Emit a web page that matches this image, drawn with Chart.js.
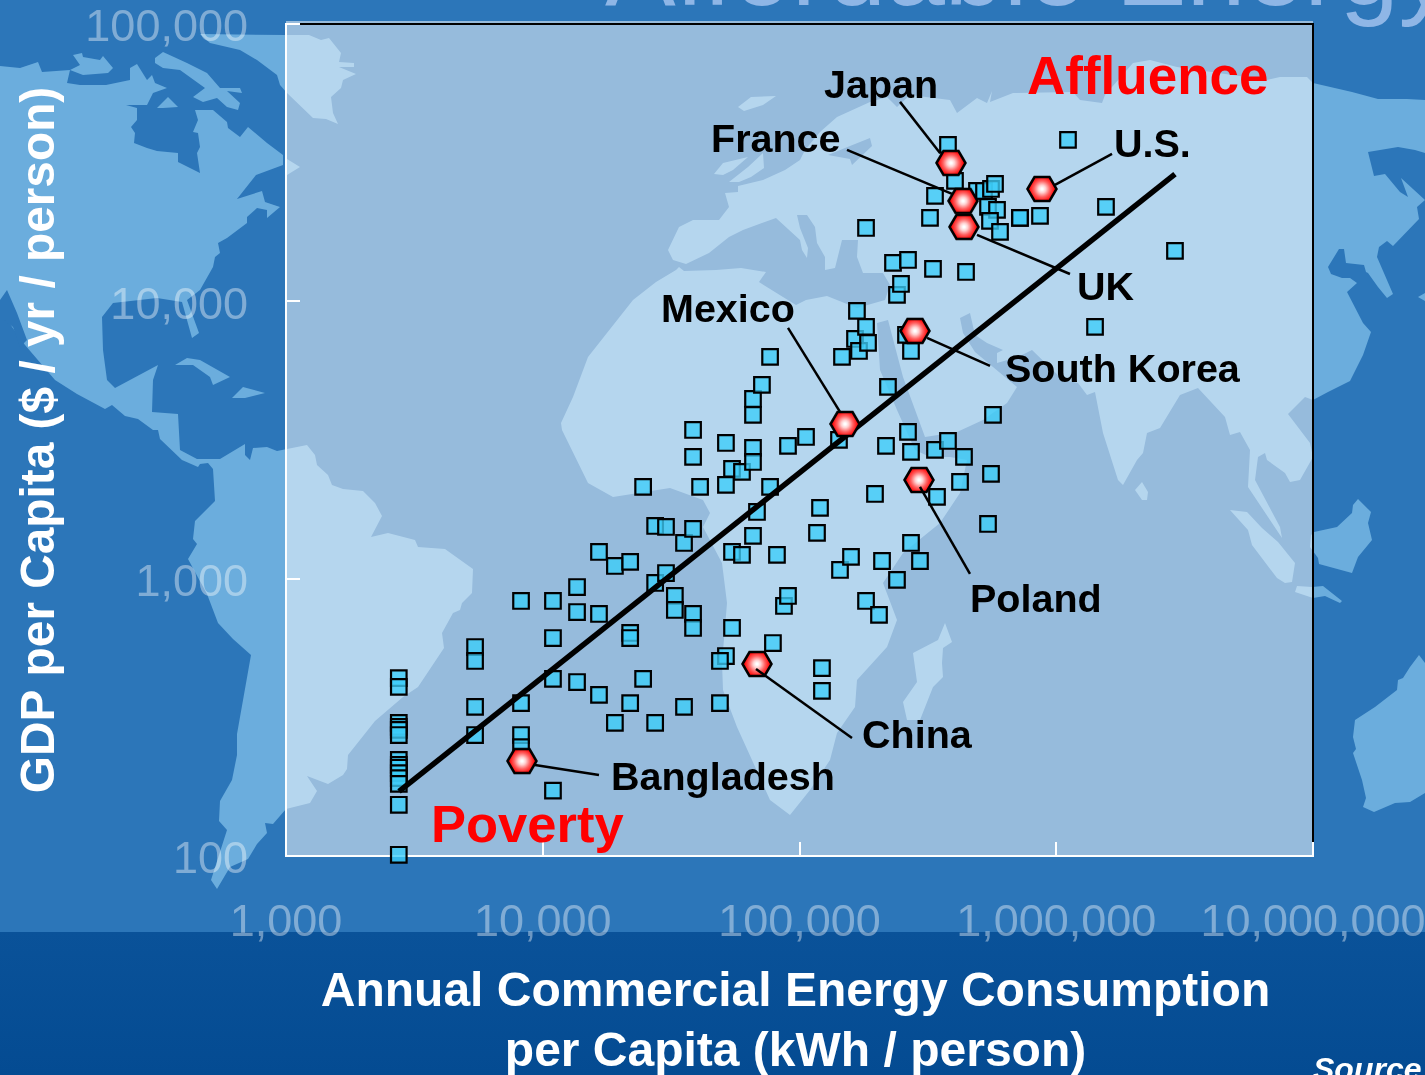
<!DOCTYPE html>
<html>
<head>
<meta charset="utf-8">
<title>GDP vs energy</title>
<script src="https://cdn.jsdelivr.net/npm/chart.js@4/dist/chart.umd.min.js"></script>
<style>
  html, body { margin: 0; padding: 0; }
  body { width: 1425px; height: 1075px; overflow: hidden; position: relative; background: #2c76b9; font-family: "Liberation Sans", Arial, sans-serif; }
  #map, #chart { position: absolute; left: 0; top: 0; }
  #slide-title { position: absolute; left: 605px; top: -85px; font-size: 106px; line-height: 106px; color: #8fb6e6; white-space: nowrap; }
  #source { position: absolute; left: 1313px; top: 1051px; font-size: 32px; line-height: 36px; font-weight: bold; font-style: italic; color: #fff; white-space: nowrap; }
</style>
</head>
<body>
<svg id="map" width="1425" height="1075" viewBox="0 0 1425 1075">
  <defs><linearGradient id="band" x1="0" y1="0" x2="0" y2="1"><stop offset="0" stop-color="#0a5299"/><stop offset="1" stop-color="#044b92"/></linearGradient></defs>
  <g fill="#6baddd">
    <polygon points="0,66 20,68 38,62 42,72 70,70 67,83 80,85 106,85 130,80 130,68 137,64 147,80 152,75 155,83 167,88 153,93 147,105 126,105 137,108 137,120 131,127 135,133 134,143 147,148 157,151 178,153 178,162 200,173 197,153 200,147 198,133 193,132 198,120 195,110 213,110 227,122 228,128 240,137 248,127 267,143 283,155 283,165 256,175 237,199 262,191 265,202 280,207 267,218 267,210 257,208 247,217 247,223 227,238 218,243 220,253 215,257 213,267 200,290 187,300 199,333 192,338 182,302 157,298 113,303 102,317 103,350 107,380 115,388 158,365 153,380 152,412 178,414 180,450 197,459 220,459 245,444 245,455 250,460 253,448 267,447 277,451 307,445 315,455 317,465 328,475 332,485 343,489 363,491 375,503 382,516 371,537 388,533 415,540 418,547 445,549 473,569 472,593 462,603 460,610 453,613 442,633 444,648 418,687 403,697 375,721 348,755 347,769 343,775 328,784 307,776 317,791 310,803 286,809 273,824 265,823 267,833 257,844 248,859 230,867 217,889 211,880 227,830 219,821 220,801 232,780 237,755 237,734 251,655 233,639 218,623 207,594 188,559 197,544 193,539 195,521 215,501 213,469 208,463 200,464 198,467 182,460 160,439 158,430 153,430 138,419 125,416 112,405 105,409 77,394 55,380 25,345 0,310"/>
    <polygon points="155,58 163,52 187,63 207,73 220,88 240,88 242,93 227,91 240,103 238,110 227,107 217,98 203,102 193,97 205,88 180,70 163,68 155,63"/>
    <polygon points="157,108 168,97 178,107 163,108"/>
    <polygon points="70,70 80,65 73,55 82,53 83,57 100,60 103,56 113,68 108,73 83,75"/>
    <polygon points="175,365 187,358 200,360 230,377 213,385 210,377 193,365"/>
    <polygon points="232,398 243,387 265,393 245,398"/>
    <polygon points="200,34 286,35 309,35 321,40 329,38 341,53 339,62 354,63 354,67 339,67 356,74 343,80 341,88 331,97 333,113 338,124 326,119 313,118 287,93 280,85 277,75 257,60 240,50 210,43"/>
    <polygon points="287,159 300,167 287,175"/>
    <polygon points="738,107 751,97 776,96 763,105 744,111"/>
    <polygon points="714,174 723,163 748,157 733,170 723,175"/>
    <polygon points="729,182 748,167 763,153 764,168 751,177 739,182"/>
    <polygon points="562,430 561,423 573,397 588,357 633,300 656,282 676,270 679,267 684,271 716,270 741,268 766,272 759,282 783,297 796,305 806,300 827,296 857,308 885,300 890,285 883,273 863,273 857,257 858,240 842,240 835,268 825,270 825,257 817,243 815,227 807,215 797,215 800,228 808,248 807,258 802,250 800,240 776,218 743,230 729,237 709,253 686,264 673,260 668,250 679,227 693,220 719,220 729,207 725,193 738,192 738,186 763,180 785,170 800,160 805,150 820,132 837,117 870,102 887,97 897,107 910,95 950,100 957,113 977,98 987,103 992,91 990,102 1013,93 1073,92 1080,100 1102,103 1105,95 1133,63 1150,60 1177,67 1267,80 1280,77 1307,77 1313,83 1352,92 1378,99 1407,99 1425,100 1425,153 1415,150 1398,147 1368,152 1374,176 1385,174 1400,192 1408,197 1401,178 1425,200 1417,207 1419,219 1393,246 1387,241 1379,247 1377,257 1393,294 1387,298 1378,287 1368,273 1366,272 1364,265 1346,263 1344,249 1339,249 1328,267 1331,274 1342,278 1350,278 1357,283 1347,292 1363,323 1371,332 1363,355 1350,381 1328,392 1313,400 1305,397 1288,414 1310,443 1313,457 1300,480 1290,482 1285,473 1267,460 1265,453 1258,457 1255,480 1280,527 1282,538 1268,517 1248,487 1250,450 1240,432 1230,435 1225,417 1198,388 1180,395 1160,428 1147,433 1143,453 1137,460 1123,485 1118,480 1103,433 1095,392 1087,395 1078,383 1063,380 1032,350 1018,357 997,363 997,353 1003,350 987,343 975,335 970,313 960,318 963,333 975,352 1017,387 1007,403 983,420 957,432 925,437 903,377 888,320 877,323 880,370 897,410 915,450 930,457 950,457 967,460 960,493 940,523 903,553 883,583 897,620 887,647 857,680 855,707 837,733 830,760 810,790 790,815 770,800 752,760 737,727 723,690 722,663 727,603 722,563 703,527 710,513 703,500 670,488 613,497 588,483"/>
    <polygon points="945,623 952,642 943,648 942,663 943,677 933,687 920,720 907,720 903,702 917,682 913,653 938,640"/>
    <polygon points="1142,482 1148,492 1147,500 1142,500 1135,490"/>
    <polygon points="1230,510 1247,512 1262,528 1278,542 1295,563 1292,582 1285,583 1277,578 1252,545 1248,530"/>
    <polygon points="1297,586 1312,587 1323,586 1342,601 1340,603 1325,596 1313,598 1295,592"/>
    <polygon points="1358,499 1371,512 1368,523 1372,540 1358,557 1352,573 1319,564 1318,558 1310,547 1311,535 1314,532 1337,527 1352,513 1353,505"/>
    <polygon points="1418,297 1425,293 1425,301"/>
    <polygon points="1419,655 1425,663 1425,793 1410,802 1395,803 1374,812 1363,807 1366,798 1362,780 1353,753 1356,749 1353,737 1355,720 1375,707 1397,690 1398,680 1403,678 1410,667"/>
  </g>
  <g fill="#2c76b9">
    <polygon points="845,148 870,138 872,146 852,165 850,159 828,155"/>
    <polygon points="7,290 17,313 27,340 20,347 13,327 0,317 0,300"/>
  </g>
  <rect x="0" y="932" width="1425" height="143" fill="url(#band)"/>
</svg>
<div id="slide-title">Affordable Energy</div>
<canvas id="chart" width="1425" height="1075"></canvas>
<div id="source">Source:</div>
<script>
// tick values
const energyTicks = [1000, 10000, 100000, 1000000, 10000000];
const gdpTicks = [100, 1000, 10000, 100000];

// countries, kWh / person and $ / person
const energy = [
  2750, 2750, 2750, 2750, 2750, 2750, 2750, 2750, 2750, 2750, 2750, 2750, 2750, 2750,
  5450, 5450, 5450, 5450, 8230, 8230, 8230, 8230, 10960, 10960, 10960, 10960,
  13600, 13600, 13600, 16560, 16560, 16560, 19100, 19100, 21900, 21900, 21900, 21900,
  24600, 24600, 27400, 27400, 27400, 30200, 30200, 32700, 32700, 35500, 35500,
  38500, 38500, 38500, 38500, 38500, 41000, 51700, 51700, 51700, 49000, 49000,
  54600, 54600, 54600, 59700, 59700, 65900, 65900, 65900, 65900, 65900, 68300, 71400,
  76800, 76800, 78800, 81700, 87000, 90200, 90200, 106000, 117000, 120200, 122300, 122300,
  142500, 143800, 146400, 158700, 164500, 167400, 170500, 181600, 181600, 181600, 184900,
  196800, 204000, 209600, 217200, 221100, 231300, 239700, 239700, 248500, 259900,
  264600, 264600, 271800, 271800, 271800, 294600, 322300, 331100, 337100, 337100, 343200,
  378700, 378700, 403300, 421900, 437200, 445200, 491200, 523200, 542300, 542300,
  557000, 557000, 567100, 577400, 587900, 552000, 603900, 722400, 722400, 864400,
  1111000, 1416000, 1562000, 2900000
];
const gdp = [
  438, 407, 302, 292, 285, 273, 222, 213, 208, 199, 191, 182, 153, 101,
  567, 505, 345, 273, 831, 356, 273, 247, 831, 611, 435, 172,
  933, 758, 424, 1248, 746, 381, 1111, 302, 1149, 637, 611, 356,
  2142, 435, 1549, 965, 302, 1536, 1048, 866, 771, 1345, 345,
  3437, 2748, 1511, 746, 664, 2142, 3085, 2178, 526, 505, 356,
  2487, 1248, 664, 2426, 1218, 4446, 3894, 2960, 2635, 1426, 1740, 4995,
  6303, 2142, 586, 1218, 797, 3010, 866, 3243, 1462, 1799, 476, 394,
  3164, 1075, 6303, 1198, 7317, 9235, 6623, 18390, 8086, 831, 7079,
  2020, 740, 1158, 3010, 4913, 13760, 10550, 990, 11550, 7565,
  14100, 3381, 6623, 2864, 1345, 1158, 19990, 13090, 23990, 2912, 1971,
  36640, 3137, 27180, 2232, 2748, 12760, 25000, 25000, 21900, 1575,
  25420, 2386, 3894, 26500, 21360, 19500, 17800, 19990, 19990, 20320,
  38200, 8086, 21900, 15200
];

// highlighted countries
const countries = ['Japan', 'France', 'UK', 'U.S.', 'South Korea', 'Mexico', 'Poland', 'China', 'Bangladesh'];
const countryEnergy = [389000, 433400, 437200, 880000, 281700, 150400, 292000, 68300, 8300];
const countryGdp = [31560, 23020, 18550, 25420, 7822, 3613, 2269, 492.5, 220];

// callout lines, label end then marker end
const leaderEnergyA = [246300, 153100, 1131000, 1649000, 552000, 90200, 461300, 160100, 16560];
const leaderGdpA = [52380, 35160, 12550, 34010, 5848, 8019, 1040, 266.4, 195.9];
const leaderEnergyB = [352500, 392600, 491200, 988800, 313800, 143800, 294600, 67700, 9328];
const leaderGdpB = [34290, 24400, 17360, 26290, 7379, 3992, 2142, 472.5, 212.9];

// fit line
const trendEnergy = [2755, 2900000];
const trendGdp = [171, 28770];

// text on the plot
const notes = [
  { text: 'Japan', x: 824, y: 98 },
  { text: 'France', x: 711, y: 152 },
  { text: 'U.S.', x: 1114, y: 157 },
  { text: 'UK', x: 1077, y: 300 },
  { text: 'Mexico', x: 661, y: 322 },
  { text: 'South Korea', x: 1005, y: 382 },
  { text: 'Poland', x: 970, y: 612 },
  { text: 'China', x: 862, y: 748 },
  { text: 'Bangladesh', x: 611, y: 790 },
  { text: 'Affluence', x: 1027, y: 94, size: 53, color: '#ff0000' },
  { text: 'Poverty', x: 431, y: 842, size: 52.5, color: '#ff0000' }
];
const xTitle = ['Annual Commercial Energy Consumption', 'per Capita (kWh / person)'];

function hexagon() {
  const c = document.createElement('canvas');
  c.width = 32; c.height = 28;
  const g = c.getContext('2d');
  const grad = g.createRadialGradient(16, 14, 1, 16, 14, 15);
  grad.addColorStop(0, '#ffffff');
  grad.addColorStop(0.2, '#ffd0d0');
  grad.addColorStop(0.5, '#ff6060');
  grad.addColorStop(0.85, '#ff0000');
  g.beginPath();
  [[1.5, 14], [8.5, 2], [23.5, 2], [30.5, 14], [23.5, 26], [8.5, 26]].forEach((p, i) => i ? g.lineTo(p[0], p[1]) : g.moveTo(p[0], p[1]));
  g.closePath();
  g.fillStyle = grad;
  g.fill();
  g.lineWidth = 2.5;
  g.strokeStyle = '#000';
  g.stroke();
  return c;
}

const panel = {
  id: 'panel',
  beforeDraw(chart) {
    const { ctx, chartArea: a } = chart;
    ctx.save();
    ctx.fillStyle = 'rgba(255,255,255,0.5)';
    ctx.fillRect(a.left, a.top - 3, a.right - a.left, a.bottom - a.top + 3);
    ctx.strokeStyle = '#000';
    ctx.lineWidth = 2;
    ctx.beginPath();
    ctx.moveTo(a.left, a.top);
    ctx.lineTo(a.right, a.top);
    ctx.lineTo(a.right, a.bottom);
    ctx.stroke();
    ctx.restore();
  },
  afterDraw(chart) {
    const { ctx } = chart;
    ctx.save();
    ctx.textBaseline = 'alphabetic';
    ctx.textAlign = 'left';
    notes.forEach(n => {
      ctx.font = 'bold ' + (n.size || 39.5) + 'px "Liberation Sans", Arial, sans-serif';
      ctx.fillStyle = n.color || '#000';
      ctx.fillText(n.text, n.x, n.y);
    });
    ctx.textAlign = 'center';
    ctx.font = 'bold 48px "Liberation Sans", Arial, sans-serif';
    ctx.fillStyle = '#fff';
    ctx.fillText(xTitle[0], 795.5, 1006);
    ctx.fillText(xTitle[1], 795.5, 1066);
    ctx.restore();
  }
};

function fixBox(scale) {
  scale.paddingLeft = scale.paddingRight = scale.paddingTop = scale.paddingBottom = 0;
}

const axisFont = { family: '"Liberation Sans", Arial, sans-serif', size: 45 };
const tickGrid = { color: '#fff', lineWidth: 2, drawOnChartArea: false, tickLength: -14 };

new Chart(document.getElementById('chart'), {
  type: 'scatter',
  data: {
    datasets: [
      ...countries.map((c, i) => ({
        label: c + ' callout',
        order: 0,
        showLine: true,
        data: [{ x: leaderEnergyA[i], y: leaderGdpA[i] }, { x: leaderEnergyB[i], y: leaderGdpB[i] }],
        borderColor: '#000',
        borderWidth: 2.5,
        pointRadius: 0
      })),
      {
        label: 'Highlighted',
        order: 1,
        data: countries.map((c, i) => ({ x: countryEnergy[i], y: countryGdp[i] })),
        pointStyle: hexagon(),
        pointRadius: 14
      },
      {
        label: 'Trend',
        order: 2,
        showLine: true,
        data: trendEnergy.map((x, i) => ({ x, y: trendGdp[i] })),
        borderColor: '#000',
        borderWidth: 5.5,
        pointRadius: 0
      },
      {
        label: 'Countries',
        order: 3,
        clip: false,
        data: energy.map((x, i) => ({ x, y: gdp[i] })),
        pointStyle: 'rect',
        pointRadius: 11,
        backgroundColor: 'rgba(60,205,248,0.78)',
        borderColor: '#000',
        borderWidth: 2.2
      }
    ]
  },
  options: {
    responsive: false,
    animation: false,
    events: [],
    layout: { padding: { left: 0, top: 24, right: 112, bottom: 0 } },
    plugins: { legend: { display: false }, tooltip: { enabled: false } },
    scales: {
      x: {
        type: 'logarithmic',
        min: 1000,
        max: 10000000,
        afterBuildTicks: s => { s.ticks = energyTicks.map(value => ({ value })); },
        afterFit: s => { s.height = 219; fixBox(s); },
        grid: tickGrid,
        border: { color: '#fff', width: 2 },
        ticks: {
          color: 'rgba(255,255,255,0.4)',
          font: axisFont,
          padding: 55,
          autoSkip: false,
          maxRotation: 0,
          callback: v => v.toLocaleString('en-US')
        }
      },
      y: {
        type: 'logarithmic',
        min: 100,
        max: 100000,
        afterBuildTicks: s => { s.ticks = gdpTicks.map(value => ({ value })); },
        afterFit: s => { s.width = 286; fixBox(s); },
        grid: tickGrid,
        border: { color: '#fff', width: 2 },
        ticks: {
          color: 'rgba(255,255,255,0.4)',
          // blank first line drops the label a few px below its tick, like the original
          font: { ...axisFont, lineHeight: '10px' },
          padding: 52,
          autoSkip: false,
          callback: v => ['', v.toLocaleString('en-US')]
        },
        title: {
          display: true,
          text: 'GDP per Capita ($ / yr / person)',
          color: '#fff',
          font: { family: axisFont.family, size: 47.8, weight: 'bold', lineHeight: 1.2 },
          padding: { top: 12, bottom: 0 }
        }
      }
    }
  },
  plugins: [panel]
});
</script>
</body>
</html>
